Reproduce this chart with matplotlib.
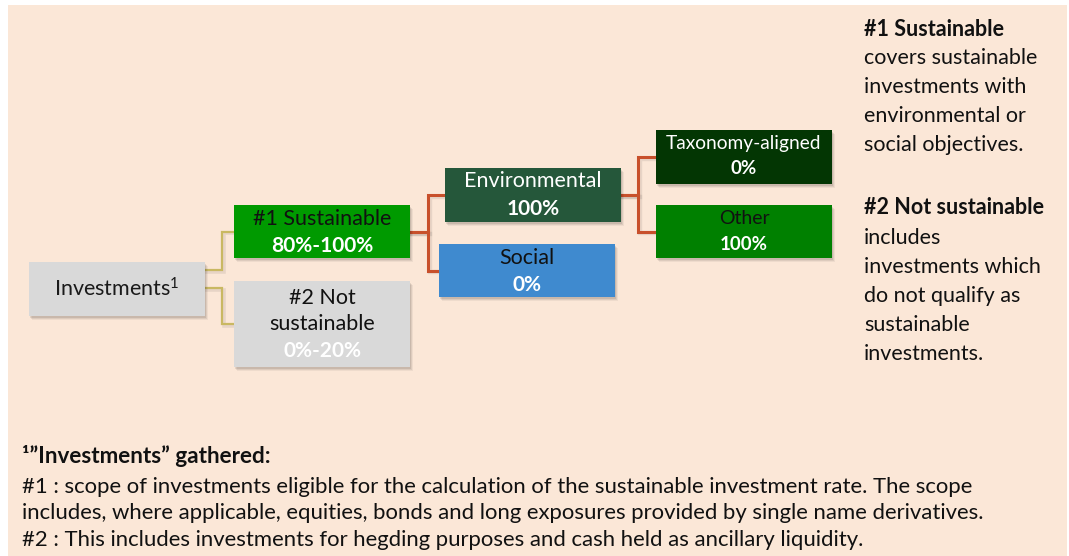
import matplotlib
matplotlib.use("Agg")
import matplotlib.pyplot as plt
from matplotlib.patches import Rectangle

plt.rcParams["mathtext.fontset"] = "custom"
plt.rcParams["mathtext.rm"] = "Lato"
plt.rcParams["mathtext.it"] = "Lato:italic"
plt.rcParams["mathtext.bf"] = "Lato:bold"

# ---------------- data ----------------
node_names = ["Investments$^{\\mathrm{1}}$", "#1 Sustainable", "#2 Not\nsustainable", "Environmental",
              "Social", "Taxonomy-aligned", "Other"]
node_shares = ["", "80%-100%", "0%-20%", "100%", "0%", "0%", "100%"]
edges = [(0, 1), (0, 2), (1, 3), (1, 4), (3, 5), (3, 6)]

side_lines = [("#1 Sustainable", True), ("covers sustainable", False), ("investments with", False),
              ("environmental or", False), ("social objectives.", False),
              ("#2 Not sustainable", True), ("includes", False), ("investments which", False),
              ("do not qualify as", False), ("sustainable", False), ("investments.", False)]

foot_title = "¹”Investments” gathered:"
foot_lines = ["#1 : scope of investments eligible for the calculation of the sustainable investment rate. The scope",
              "includes, where applicable, equities, bonds and long exposures provided by single name derivatives.",
              "#2 : This includes investments for hegding purposes and cash held as ancillary liquidity."]

# ---------------- layout / style ----------------
W, H = 1069, 556
FAM = ["Lato", "DejaVu Sans"]

boxes = [(29, 262, 205, 316), (234, 205, 410, 258), (234, 281, 410, 367), (445, 168, 621, 222),
         (439, 244, 615, 297), (656, 130, 832, 184), (656, 205, 832, 258)]
face = ["#d9d9d9", "#009a00", "#d9d9d9", "#25573a", "#3f8acf", "#033603", "#008000"]
name_col = ["#1a1a1a", "#111111", "#111111", "white", "#111111", "white", "#111111"]
share_col = ["white", "white", "white", "white", "white", "white", "white"]
name_y = [289, 219, 311, 181, 258, 144, 219]
share_y = [None, 246, 351, 209, 285, 169, 244]
name_fs = [15.5, 15.5, 15.5, 15.5, 15.5, 13.8, 14]
share_fs = [15.5, 15, 15, 15, 15, 13.5, 13.5]
edge_exit_y = [270, 288, 232, 232, 195, 195]
elbow_x = {0: 222, 1: 428, 3: 638}
edge_col = {0: "#c9b862", 1: "#c8502b", 3: "#c8502b"}
edge_lw = {0: 1.6, 1: 2.2, 3: 2.2}

fig = plt.figure(figsize=(W / 100, H / 100), dpi=100)
fig.patch.set_facecolor("white")
ax = fig.add_axes([0, 0, 1, 1])
ax.set_xlim(0, W)
ax.set_ylim(H, 0)
ax.axis("off")

ax.add_patch(Rectangle((8, 5), 1059, 551, facecolor="#fbe7d7", edgecolor="none", zorder=0))

# connectors
for (p, c), ey in zip(edges, edge_exit_y):
    px = boxes[p][2]
    cx = boxes[c][0]
    cy = (boxes[c][1] + boxes[c][3]) / 2
    vx = elbow_x[p]
    xs = [px, vx, vx, cx]
    ys = [ey, ey, cy, cy]
    ax.plot([x + 1.5 for x in xs], [y + 1.5 for y in ys], color="#000000", alpha=0.08,
            lw=edge_lw[p] + 1, solid_joinstyle="miter", zorder=1)
    ax.plot(xs, ys, color=edge_col[p], lw=edge_lw[p], solid_joinstyle="miter", zorder=2)

# boxes
for i, (x0, y0, x1, y1) in enumerate(boxes):
    for k, a in ((4, 0.05), (3, 0.07), (2, 0.09)):
        ax.add_patch(Rectangle((x0 + k - 1, y0 + k), x1 - x0, y1 - y0, facecolor="black",
                               alpha=a, edgecolor="none", zorder=3))
    ax.add_patch(Rectangle((x0, y0), x1 - x0, y1 - y0, facecolor=face[i], edgecolor="none", zorder=4))
    cx = (x0 + x1) / 2
    ax.text(cx, name_y[i], node_names[i], ha="center", va="center", fontsize=name_fs[i],
            color=name_col[i], family=FAM, linespacing=1.35, zorder=5)
    if node_shares[i]:
        ax.text(cx, share_y[i], node_shares[i], ha="center", va="center", fontsize=share_fs[i],
                color=share_col[i], family=FAM, fontweight="bold", zorder=5)

# side description
side_y = [30, 58, 87, 116, 145, 208, 238, 267, 296, 325, 354]
for (txt, bold), y in zip(side_lines, side_y):
    ax.text(864, y, txt, ha="left", va="center", fontsize=15.5, color="#111111", family=FAM,
            fontweight="bold" if bold else "normal", zorder=5)

# footnote
ax.text(22, 456, foot_title, ha="left", va="center", fontsize=16.2, color="#111111", family=FAM,
        fontweight="bold", zorder=5)
for txt, y in zip(foot_lines, [487, 513, 540]):
    ax.text(22, y, txt, ha="left", va="center", fontsize=15.9, color="#111111", family=FAM, zorder=5)

fig.savefig("out.png", dpi=100, facecolor=fig.get_facecolor())
